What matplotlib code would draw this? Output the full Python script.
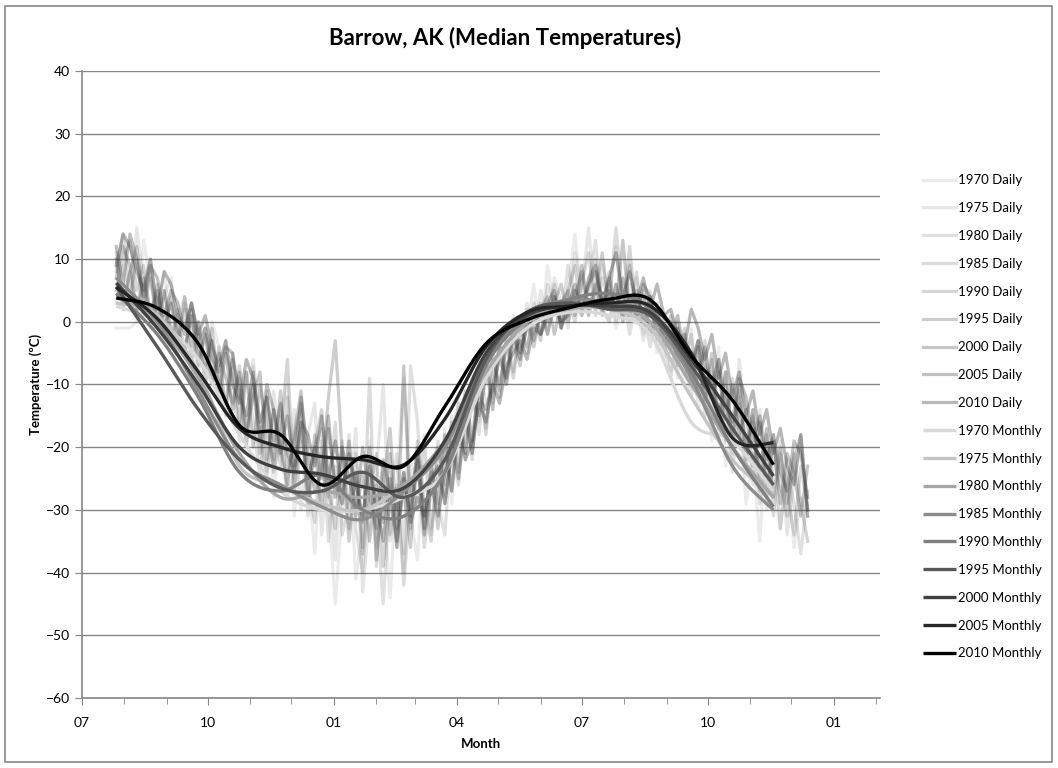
import numpy as np
import pandas as pd
import matplotlib
matplotlib.use("Agg")
import matplotlib.pyplot as plt
import matplotlib.dates as mdates
from matplotlib.patches import Rectangle

plt.rcParams["font.family"] = ["Lato", "DejaVu Sans"]

YEARS = [1970, 1975, 1980, 1985, 1990, 1995, 2000, 2005, 2010]

# daily medians, sampled every 5 days from late July to mid December of the next year
daily_dates = pd.date_range("2001-07-26", periods=102, freq="5D")
daily = {
    1970: [-1, -1, -1, 0, 13, 6, 2, 8, -3, 1, 4, -6, -2, -11, 0, -4, -14,
           -6, -18, -9, -7, -23, -12, -28, -16, -10, -31, -19, -24, -37, -20, -29, -45, -30,
           -22, -41, -33, -19, -36, -28, -44, -25, -9, -31, -38, -20, -34, -26, -17, -29, -12,
           -21, -8, -16, -5, -14, -2, -9, 1, -5, -1, 6, -3, 9, 2, -1, 5, 14,
           4, 1, 8, 2, 6, -1, 3, 0, 7, -2, 2, -5, 1, -8, -3, -10, -1,
           -14, -7, -19, -4, -23, -16, -12, -29, -21, -35, -17, -26, -33, -22, -36, -28, -31],
    1975: [3, 9, 2, 15, 6, 10, 1, 4, 7, -4, 3, -1, -8, -2, -6, -12, -3,
           -15, -9, -20, -6, -16, -24, -11, -21, -27, -14, -30, -18, -13, -34, -22, -38, -20,
           -29, -17, -43, -31, -24, -10, -35, -27, -40, -22, -30, -18, -33, -25, -28, -15, -23,
           -12, -19, -7, -13, -11, -3, -8, 0, -6, 3, -2, 5, 0, 7, 3, -1, 11,
           5, 15, 2, 9, 4, 12, 0, 6, 3, -3, 5, -1, -6, 0, -9, -2, -7,
           -3, -13, -8, -17, -10, -21, -6, -18, -26, -14, -30, -23, -19, -34, -25, -20, -30],
    1980: [11, 3, 8, 1, 6, -1, 4, 0, 3, -5, 2, -7, 0, -10, -3, -13, -5,
           -9, -19, -8, -16, -25, -11, -22, -15, -28, -24, -14, -31, -20, -17, -35, -23, -29,
           -18, -33, -40, -24, -30, -45, -27, -21, -37, -7, -16, -33, -23, -29, -34, -18, -13,
           -22, -10, -18, -6, -13, -4, -10, -1, -4, 2, 0, -3, 6, 2, 0, 9, 3,
           1, 6, 13, 2, 8, 0, 5, -2, 4, 1, -4, 2, -3, -9, 0, -6, -12,
           -4, -15, -9, -18, -11, -24, -13, -20, -16, -29, -22, -18, -33, -24, -29, -37, -27],
    1985: [8, 14, 4, 10, 2, 7, -1, 5, -3, 2, -5, 1, -7, -1, -10, -4, -15,
           -6, -11, -20, -10, -18, -25, -14, -23, -12, -27, -17, -26, -32, -19, -28, -16, -34,
           -29, -21, -36, -9, -39, -23, -34, -26, -42, -28, -22, -36, -27, -19, -29, -21, -26,
           -14, -22, -9, -17, -5, -11, -2, -8, 0, -5, 3, -2, 0, 6, -1, 4, 0,
           6, 11, 1, 7, 3, 15, 4, 1, 8, -1, 4, -3, 1, -5, -1, -7, -2,
           -11, -3, -14, -6, -19, -9, -16, -23, -14, -27, -18, -31, -21, -27, -34, -23, -30],
    1990: [5, 10, 13, 5, 9, 1, 6, -2, 4, -1, -5, 2, -4, -8, -1, -11, -5,
           -14, -7, -17, -10, -21, -12, -24, -18, -6, -26, -16, -29, -20, -14, -27, -33, -19,
           -33, -24, -37, -27, -21, -39, -28, -36, -24, -33, -19, -29, -35, -20, -26, -16, -24,
           -13, -21, -8, -18, -7, -12, -3, -9, -1, -4, 1, 3, -2, 4, -1, 5, 9,
           1, 5, 10, 2, 0, 6, 1, 12, 0, 4, -2, 3, -4, 0, -6, -1, -10,
           -4, -13, -6, -16, -8, -20, -11, -22, -15, -25, -28, -19, -26, -31, -21, -29, -35],
    1995: [10, 2, 8, 12, 3, 8, 0, 5, -1, -3, 4, -4, 0, -7, -3, -9, -13,
           -5, -16, -8, -20, -10, -17, -23, -11, -24, -19, -13, -28, -18, -25, -12, -3, -21,
           -35, -24, -32, -20, -38, -26, -17, -33, -27, -36, -21, -31, -24, -33, -20, -27, -17,
           -11, -19, -10, -7, -14, -4, -10, -3, -7, 0, -4, 2, -2, 3, 6, 0, 4,
           8, 1, 5, 11, 2, 6, 0, 9, 1, 5, -2, 2, -3, 1, -7, -2, -9,
           -3, -12, -5, -15, -8, -18, -10, -21, -14, -24, -17, -28, -20, -29, -22, -18, -30],
    2000: [7, 12, 9, 2, 7, 1, 5, -1, 3, -2, -4, 1, -6, -2, -10, -5, -9,
           -13, -8, -18, -12, -8, -22, -14, -20, -26, -18, -11, -25, -20, -30, -17, -26, -29,
           -19, -31, -24, -35, -26, -32, -21, -36, -7, -30, -20, -33, -23, -29, -18, -27, -15,
           -21, -12, -15, -9, -6, -10, -4, -2, -6, 1, -3, 2, 4, -2, 3, 5, 1,
           9, 2, 6, 1, 7, 2, 13, 1, 5, 0, 4, -1, -2, -4, -1, -5, -7,
           -9, -4, -12, -8, -15, -10, -18, -14, -23, -16, -26, -19, -29, -21, -24, -31, -23],
    2005: [12, 6, 14, 10, 4, 9, 7, 1, 5, 3, -2, 3, -3, -1, -6, -8, -4,
           -5, -12, -15, -8, -19, -10, -14, -21, -15, -23, -12, -21, -27, -24, -15, -28, -20,
           -25, -30, -20, -28, -33, -22, -27, -35, -25, -31, -22, -34, -26, -31, -24, -19, -25,
           -16, -21, -12, -14, -10, -6, -9, -2, -5, -1, 1, -2, 3, 5, -1, 2, 6,
           2, 7, 9, 3, 5, 2, 7, 3, 1, 6, 4, 0, -1, -3, 1, -5, -7,
           -3, -7, -10, -6, -13, -16, -9, -12, -19, -15, -22, -18, -24, -27, -19, -21, -28],
    2010: [9, 14, 12, 8, 5, 10, 2, 8, 6, 1, -1, 3, -2, 1, -4, -7, -3,
           -10, -13, -6, -9, -16, -12, -19, -13, -21, -24, -16, -18, -23, -15, -25, -19, -27,
           -21, -26, -31, -23, -29, -35, -25, -30, -24, -32, -28, -31, -25, -23, -29, -21, -17,
           -22, -19, -13, -16, -10, -13, -7, -5, -3, -6, -1, -2, 1, 4, 0, 1, 5,
           2, 6, 8, 3, 7, 11, 4, 8, 3, 7, 2, 6, 1, 2, -2, -4, 2,
           -1, -6, -2, -9, -5, -12, -8, -15, -11, -18, -14, -21, -17, -23, -26, -18, -31],
}

# monthly medians
monthly_dates = pd.date_range("2001-07-26", periods=17, freq="30D")
monthly = {
    1970: [2.5, 0, -6, -18, -27, -30, -30, -28, -24, -9, -1, 1.5, 1, -2, -16, -19, -27],
    1975: [3, 1, -8, -23, -26, -29, -30, -26, -20, -6, 0, 2, 2, -1, -12, -22, -27.5],
    1980: [4.5, 0, -9, -21, -28, -27, -28, -26, -19, -8, 0, 2, 2.5, 0, -10, -20, -28],
    1985: [7, 0, -11, -22, -26, -29.5, -31.5, -27, -20, -6, 1, 3.5, 3, 1, -9, -23, -30],
    1990: [4.5, -2, -12, -24, -27, -24.5, -30, -31, -24, -7, 0.5, 3.5, 4.5, 2, -8, -20, -29.5],
    1995: [5.6, -4, -14, -22, -26.5, -27, -24, -28, -22, -6, 1.5, 3, 2, 1, -7, -17, -26],
    2000: [6.2, -1, -10, -20, -23.5, -24.3, -26.3, -26.5, -19, -5, 1, 2.5, 2.5, 1.5, -6, -15, -24.6],
    2005: [5.5, 0.5, -8, -17, -20, -21.5, -22, -22.8, -15.5, -4, 1.5, 2.5, 3, 2.5, -5, -18.5, -19.3],
    2010: [3.8, 2.2, -3.5, -16.5, -18, -26, -21.5, -23, -13.5, -3.5, 0.3, 2.2, 3.6, 3.5, -5.5, -12.5, -22.8],
}

daily_alpha = [0.10, 0.13, 0.16, 0.19, 0.22, 0.26, 0.29, 0.33, 0.37]
monthly_colors = ["#d9d9d9", "#c4c4c4", "#a6a6a6", "#8c8c8c", "#808080",
                  "#595959", "#404040", "#262626", "#000000"]


def smooth(x, y, n=24):
    # Catmull-Rom curve through the points, like Excel's "smoothed line"
    p = np.column_stack([x, y]).astype(float)
    p = np.vstack([p[0], p, p[-1]])
    out = []
    t = np.linspace(0, 1, n, endpoint=False)[:, None]
    for i in range(1, len(p) - 2):
        p0, p1, p2, p3 = p[i - 1], p[i], p[i + 1], p[i + 2]
        seg = 0.5 * ((2 * p1) + (-p0 + p2) * t + (2 * p0 - 5 * p1 + 4 * p2 - p3) * t ** 2
                     + (-p0 + 3 * p1 - 3 * p2 + p3) * t ** 3)
        out.append(seg)
    out.append(p[-2][None, :])
    out = np.vstack(out)
    return out[:, 0], out[:, 1]


fig = plt.figure(figsize=(10.58, 7.68), dpi=100)
ax = fig.add_axes([0.0775, 0.0911, 0.7545, 0.8165])

dx = mdates.date2num(daily_dates)
for yr, a in zip(YEARS, daily_alpha):
    ax.plot(dx, daily[yr], color="#404040", alpha=a, lw=2.3,
            solid_joinstyle="round", label=f"{yr} Daily")

mx = mdates.date2num(monthly_dates)
for yr, c in zip(YEARS, monthly_colors):
    sx, sy = smooth(mx, monthly[yr])
    ax.plot(sx, sy, color=c, lw=2.4, solid_capstyle="butt", label=f"{yr} Monthly")

ax.set_ylim(-60, 40)
ax.set_yticks(range(-60, 41, 10))
ax.set_xlim(mdates.date2num(pd.Timestamp("2001-07-01")),
            mdates.date2num(pd.Timestamp("2003-02-04")))
ax.xaxis.set_major_locator(mdates.MonthLocator(bymonth=[1, 4, 7, 10]))
ax.xaxis.set_major_formatter(mdates.DateFormatter("%m"))
ax.xaxis.set_minor_locator(mdates.MonthLocator())
ax.grid(axis="y", color="#868686", lw=1)
ax.set_axisbelow(True)
for s in ["top", "right"]:
    ax.spines[s].set_visible(False)
for s in ["left", "bottom"]:
    ax.spines[s].set_color("#868686")
    ax.spines[s].set_linewidth(1.2)
ax.tick_params(which="both", direction="out", color="#868686", labelsize=10)
ax.tick_params(which="major", length=5)
ax.tick_params(which="minor", length=4)
ax.tick_params(axis="x", pad=9)

ax.set_xlabel("Month", fontsize=9.5, fontweight="bold", labelpad=6)
ax.set_ylabel("Temperature (ºC)", fontsize=9.5, fontweight="bold", labelpad=3)
fig.suptitle("Barrow, AK (Median Temperatures)", x=0.477, y=0.965,
             fontsize=16, fontweight="bold")

fig.legend(loc="upper left", bbox_to_anchor=(0.867, 0.78), frameon=False,
           fontsize=9.5, handlelength=2.5, handletextpad=0.15, labelspacing=1.2,
           borderaxespad=0)

fig.patches.append(Rectangle((5 / 1058, 6 / 768), 1047 / 1058, 756 / 768,
                             transform=fig.transFigure, fill=False,
                             edgecolor="#868686", lw=1.2))

fig.savefig("out.png", dpi=100)
